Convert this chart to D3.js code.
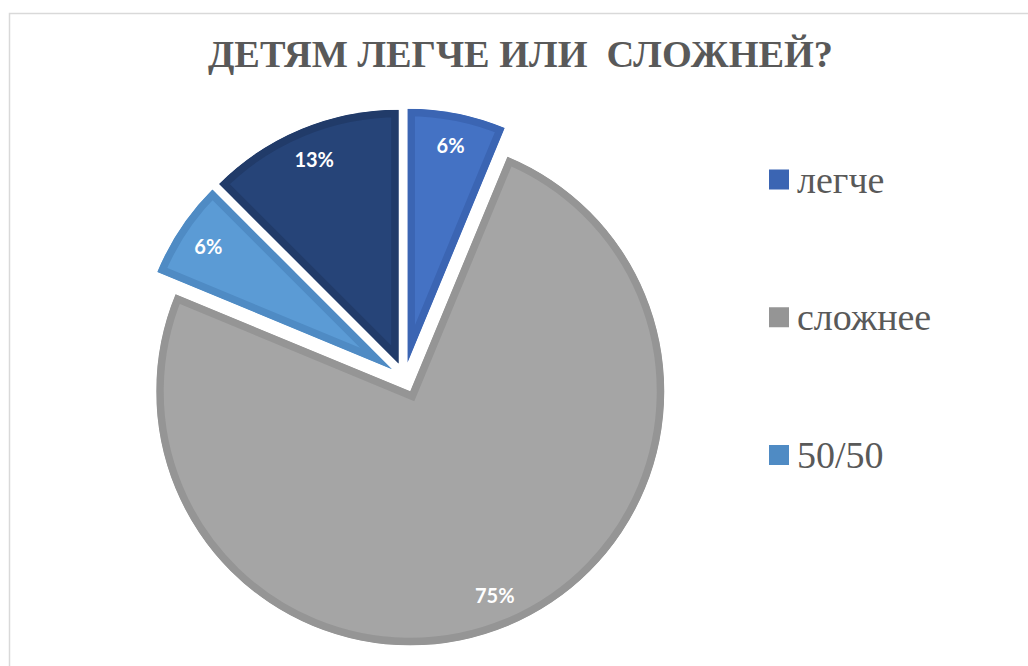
<!DOCTYPE html>
<html>
<head>
<meta charset="utf-8">
<script src="https://cdn.jsdelivr.net/npm/d3@7"></script>
</head>
<body style="margin:0">
<svg id="chart" width="1028" height="666" font-family="Liberation Serif"></svg>
<script>
// Data
const title = 'ДЕТЯМ ЛЕГЧЕ ИЛИ  СЛОЖНЕЙ?';
const categories = ['легче', 'сложнее', '50/50', ''];
const values = [1, 12, 1, 2];
const fillColors = ['#4472c4', '#a5a5a5', '#5b9bd5', '#264478'];
const edgeColors = ['#3b65b3', '#959595', '#4f8bc4', '#213b69'];

const width = 1028;
const height = 666;
const serifFont = 'Liberation Serif, Tinos, Times New Roman, serif';

const svg = d3.select('#chart');

// Chart area border
svg.append('rect')
  .attr('x', 9.5)
  .attr('y', 13.5)
  .attr('width', width)
  .attr('height', height)
  .attr('fill', 'none')
  .attr('stroke', '#d9d9d9')
  .attr('stroke-width', 1.5);

// Title
svg.append('text')
  .attr('x', 208)
  .attr('y', 67)
  .attr('xml:space', 'preserve')
  .attr('font-family', serifFont)
  .attr('font-weight', 'bold')
  .attr('font-size', 38)
  .attr('fill', '#595959')
  .attr('textLength', 625)
  .attr('lengthAdjust', 'spacingAndGlyphs')
  .text(title);

// Pie
const cx = 404.5;
const cy = 377.5;
const radius = 254;
const explode = 15;
const total = d3.sum(values);

const pie = d3.pie().sort(null).value(d => d.value);
const arcs = pie(values.map((v, i) => ({ value: v, i })));
const arc = d3.arc().innerRadius(0).outerRadius(radius);

const g = svg.append('g').attr('transform', `translate(${cx},${cy})`);

const slices = g.selectAll('.slice')
  .data(arcs)
  .enter()
  .append('g')
  .attr('class', 'slice')
  .attr('transform', d => {
    const a = (d.startAngle + d.endAngle) / 2;
    return `translate(${explode * Math.sin(a)},${-explode * Math.cos(a)})`;
  });

slices.append('clipPath')
  .attr('id', (d, i) => `clip-${i}`)
  .append('path')
  .attr('d', arc);

// darker edge drawn inside each slice
slices.append('path')
  .attr('d', arc)
  .attr('fill', d => fillColors[d.index])
  .attr('stroke', d => edgeColors[d.index])
  .attr('stroke-width', 15)
  .attr('stroke-linejoin', 'miter')
  .attr('clip-path', (d, i) => `url(#clip-${i})`);

// Percentage labels
const labelRadius = 221;
slices.append('text')
  .attr('x', d => labelRadius * Math.sin((d.startAngle + d.endAngle) / 2))
  .attr('y', d => -labelRadius * Math.cos((d.startAngle + d.endAngle) / 2))
  .attr('dy', '0.36em')
  .attr('text-anchor', 'middle')
  .attr('font-family', 'Lato')
  .attr('font-weight', 'bold')
  .attr('font-size', 20)
  .attr('fill', '#fff')
  .text(d => `${Math.round(d.value / total * 100)}%`);

// Legend (named categories only)
const legendItems = categories
  .map((c, i) => ({ name: c, i }))
  .filter(d => d.name !== '');

const legendY = d3.scalePoint()
  .domain(legendItems.map(d => d.name))
  .range([179.5, 455]);

const item = svg.append('g')
  .attr('class', 'legend')
  .selectAll('.item')
  .data(legendItems)
  .enter()
  .append('g')
  .attr('class', 'item')
  .attr('transform', d => `translate(769,${legendY(d.name)})`);

item.append('rect')
  .attr('x', 0)
  .attr('y', -10)
  .attr('width', 20)
  .attr('height', 20)
  .attr('fill', d => edgeColors[d.i]);

item.append('text')
  .attr('x', 28)
  .attr('y', 13)
  .attr('font-family', serifFont)
  .attr('font-size', 38)
  .attr('fill', '#595959')
  .text(d => d.name);
</script>
</body>
</html>
